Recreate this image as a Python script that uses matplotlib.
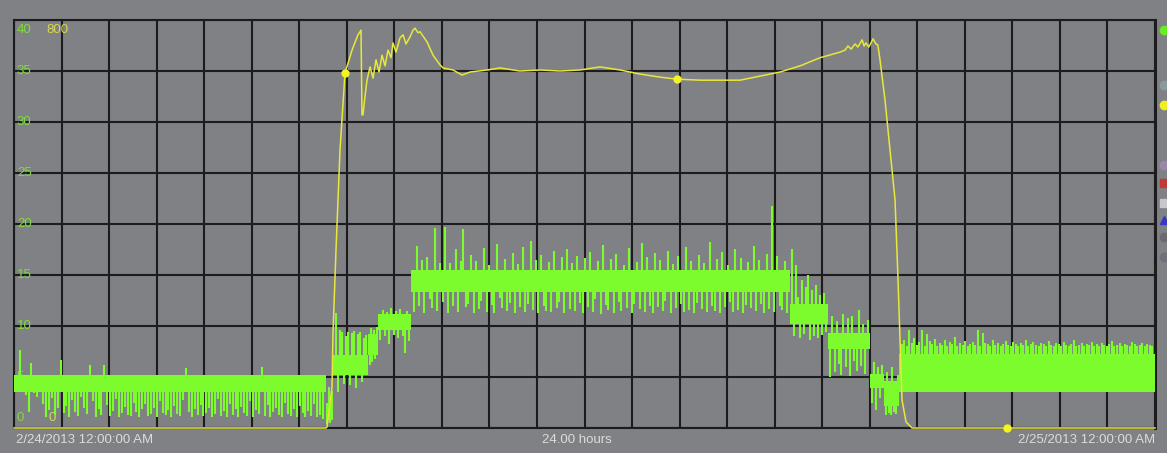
import numpy as np
import matplotlib
matplotlib.use("Agg")
from matplotlib import pyplot as plt

# ---DATA---#
# green trace: piecewise band (hours start, hours end, low, high) + spikes spread over each piece
seg_t0 = [0.00, 6.56, 6.72, 7.45, 7.66, 8.36, 16.32, 17.12, 18.00, 18.30, 18.62]
seg_t1 = [6.56, 6.72, 7.45, 7.66, 8.36, 16.32, 17.12, 18.00, 18.30, 18.62, 24.00]
seg_lo = [3.5, 0.8, 5.2, 7.2, 9.6, 13.3, 10.2, 7.7, 3.9, 2.2, 3.5]
seg_hi = [5.2, 2.5, 7.2, 9.2, 11.2, 15.5, 12.2, 9.3, 5.3, 4.6, 7.3]

seg_spikes = [
    [4.0, 7.6, 3.6, 3.2, 1.6, 6.4, 3.4, 3.0, 3.5, 2.4,
     1.1, 1.8, 2.9, 1.3, 2.0, 6.7, 1.5, 2.2, 1.1, 2.7,
     1.6, 1.2, 3.0, 2.0, 1.4, 6.2, 2.6, 1.1, 1.9, 1.3,
     6.2, 2.3, 1.2, 1.7, 2.8, 1.1, 1.5, 2.1, 1.3, 1.2,
     2.5, 1.6, 1.1, 1.9, 2.4, 1.2, 1.4, 2.0, 1.1, 2.6,
     1.5, 1.3, 1.8, 1.1, 2.2, 1.4, 1.2, 2.7, 5.9, 1.6,
     1.1, 1.9, 1.3, 2.3, 1.2, 1.5, 2.0, 1.1, 1.4, 2.8,
     1.2, 1.7, 1.1, 2.4, 1.3, 1.9, 1.1, 2.1, 1.5, 1.2,
     2.6, 1.1, 1.8, 1.4, 6.0, 1.2, 2.3, 1.1, 1.6, 2.0,
     1.3, 1.1, 2.5, 1.4, 1.2, 1.9, 1.1, 2.2, 1.5, 1.1,
     1.7, 1.2, 2.4, 1.1, 1.3, 0.9],
    [0.4, 4.0, 0.5, 3.6],
    [11.3, 3.5, 9.6, 9.4, 4.3, 9.0, 9.4, 4.2, 9.3, 9.5, 3.9, 9.2, 9.4, 4.5, 8.8, 9.1],
    [6.2, 9.8, 6.5, 9.6, 6.8, 9.9],
    [8.6, 11.6, 9.0, 11.4, 8.2, 11.8, 9.1, 11.5, 8.8, 11.7, 9.0, 7.4, 11.5, 8.5],
    [11.4, 17.8, 12.0, 16.5, 11.3, 16.8, 12.6, 11.8, 19.6, 11.5, 16.2, 12.4, 19.7, 11.3, 16.2,
     12.0, 17.5, 11.4, 16.4, 19.5, 11.9, 12.2, 17.0, 11.3, 16.4, 11.7, 12.5, 17.6, 11.4, 16.0,
     12.1, 11.3, 18.0, 12.7, 11.8, 16.6, 11.5, 12.3, 17.2, 11.3, 16.1, 11.9, 17.7, 11.4, 12.2,
     18.3, 11.6, 16.5, 11.3, 17.0, 12.0, 11.5, 16.3, 11.4, 17.4, 11.8, 12.4, 16.8, 11.3, 17.5,
     11.7, 16.2, 11.5, 16.9, 12.3, 11.3, 16.7, 11.9, 17.3, 11.4, 12.6, 16.4, 11.2, 17.9, 12.1,
     11.6, 16.6, 11.3, 17.1, 12.4, 11.5, 16.0, 11.8, 17.6, 11.3, 12.2, 16.3, 11.7, 18.1, 11.4,
     16.8, 12.0, 11.3, 17.2, 11.9, 16.5, 11.5, 12.5, 17.4, 11.3, 16.1, 11.8, 16.9, 12.2, 11.4,
     17.7, 11.6, 16.4, 11.3, 12.3, 17.0, 11.7, 16.2, 11.4, 18.2, 12.0, 11.5, 16.6, 11.3, 17.3,
     11.9, 16.0, 12.4, 11.4, 17.5, 11.6, 16.7, 11.3, 12.1, 16.3, 11.8, 17.8, 11.5, 16.5, 12.2,
     11.3, 17.1, 11.7, 21.8, 11.4, 16.9, 12.0, 11.6, 16.4, 11.3],
    [17.5, 9.0, 16.0, 12.8, 8.8, 14.5, 9.2, 13.8, 15.0, 8.6, 13.5, 9.0, 14.0, 8.8, 13.0, 9.1,
     13.2, 9.4],
    [5.0, 11.0, 5.5, 10.5, 6.3, 5.2, 11.2, 6.0, 10.8, 5.1, 11.0, 6.6, 5.6, 11.6, 6.1, 10.2,
     5.3, 10.6],
    [2.5, 6.5, 1.8, 6.0, 2.9, 6.2],
    [1.3, 5.5, 1.5, 1.3, 6.0, 1.6, 1.4, 5.2],
    [8.2, 8.6, 8.0, 9.6, 8.3, 8.8, 8.1, 8.4, 9.6, 8.0, 9.2, 8.5, 8.2, 8.7, 8.0, 8.3, 8.1, 8.6,
     8.0, 8.4, 8.2, 8.9, 8.0, 8.3, 8.1, 8.5, 8.0, 8.2, 8.4, 8.1, 9.6, 8.0, 9.3, 8.3, 8.2, 8.0,
     8.6, 8.1, 8.3, 8.0, 8.2, 8.5, 8.1, 8.0, 8.4, 8.2, 8.0, 8.3, 8.1, 8.6, 8.0, 8.2, 8.4, 8.1,
     8.0, 8.3, 8.2, 8.0, 8.5, 8.1, 8.0, 8.3, 8.2, 8.0, 8.4, 8.1, 8.0, 8.2, 8.6, 8.0, 8.1, 8.3,
     8.0, 8.2, 8.1, 8.4, 8.0, 8.2, 8.0, 8.3, 8.1, 8.0, 8.2, 8.5, 8.0, 8.1, 8.3, 8.0, 8.2, 8.1,
     8.0, 8.4, 8.2, 8.0, 8.1, 8.3, 8.0, 8.2, 8.1, 8.0],
]

# yellow trace (0-800 scale)
yel_t = [0.00, 6.563, 6.584, 6.689, 6.710, 6.773, 6.815, 6.857, 6.962, 7.110, 7.236, 7.299,
         7.320, 7.340, 7.383, 7.425, 7.489, 7.552, 7.615, 7.678, 7.741, 7.804, 7.867, 7.930,
         7.972, 8.035, 8.120, 8.183, 8.246, 8.330, 8.393, 8.435, 8.498, 8.540, 8.688, 8.814,
         8.961, 9.024, 9.234, 9.424, 9.592, 9.950, 10.223, 10.64, 11.064, 11.485, 11.906,
         12.327, 12.747, 13.168, 13.589, 13.946, 14.430, 15.272, 15.692, 16.113, 16.534,
         16.954, 17.375, 17.48, 17.54, 17.61, 17.69, 17.75, 17.84, 17.88, 17.92, 17.98, 18.07,
         18.13, 18.17, 18.216, 18.321, 18.426, 18.532, 18.595, 18.679, 18.763, 18.889, 24.0]
yel_v = [0, 0, 2, 80, 186, 349, 447, 545, 696, 741, 771, 780,
         614, 614, 650, 682, 708, 686, 722, 698, 731, 710, 741, 726,
         755, 737, 765, 771, 753, 767, 780, 784, 775, 777, 757, 731,
         712, 706, 702, 692, 698, 702, 706, 700, 702, 700, 702,
         708, 702, 694, 688, 684, 682, 682, 690, 698, 710,
         726, 737, 741, 749, 743, 753, 747, 761, 749, 755, 747, 763,
         753, 751, 722, 643, 545, 447, 290, 55, 12, 0, 0]
yel_mark_t = [6.962, 13.946, 20.89]
yel_mark_v = [696, 684, 0]

green_ticks = [0, 5, 10, 15, 20, 25, 30, 35, 40]
start_label = '2/24/2013 12:00:00 AM'
span_label = '24.00 hours'
end_label = '2/25/2013 12:00:00 AM'

# ---PLOT---#
bg = '#808185'
green = '#7cfc2c'
yellow = '#e8e83a'
gridc = '#1c1c1e'

fig = plt.figure(figsize=(11.67, 4.53), dpi=100, facecolor=bg)
ax = fig.add_axes([14/1167, 25/453, 1141/1167, 408/453])
ax.set_facecolor(bg)
ax.set_xlim(0, 24)
ax.set_ylim(0, 40)
ax.set_xticks(range(25))
ax.set_yticks(green_ticks)
ax.grid(True, color=gridc, lw=1.5, zorder=0)
ax.tick_params(length=0, labelbottom=False, labelleft=False)
for s in ax.spines.values():
    s.set_color(gridc)
    s.set_linewidth(1.5)
ax.spines['right'].set_linewidth(2.2)
ax.set_axisbelow(True)

# green value labels inside the plot
for v in green_ticks:
    va = 'center'
    yy = v
    if v == 40:
        va, yy = 'top', 39.6
    elif v == 0:
        va, yy = 'bottom', 0.4
    ax.text(0.06, yy, str(v), color='#80dc3c', fontsize=9.5, va=va, ha='left',
            family='Liberation Sans', zorder=1)
ax.text(0.69, 39.6, '800', color='#d8d84a', fontsize=9.5, va='top', ha='left',
        family='Liberation Sans', zorder=1)
ax.text(0.72, 0.4, '0', color='#d8d84a', fontsize=9.5, va='bottom', ha='left',
        family='Liberation Sans', zorder=1)

# green band
for t0, t1, lo, hi, sp in zip(seg_t0, seg_t1, seg_lo, seg_hi, seg_spikes):
    ax.fill_between([t0, t1], [lo, lo], [hi, hi], color=green, lw=0, zorder=3)
    ts = np.linspace(t0, t1, len(sp) + 2)[1:-1]
    mid = 0.5 * (lo + hi)
    ax.vlines(ts, mid, sp, color=green, lw=1.5, zorder=3)

# yellow trace on its own 0-800 scale
ax2 = ax.twinx()
ax2.set_ylim(0, 800)
ax2.set_xlim(0, 24)
ax2.axis('off')
ax2.plot(yel_t, yel_v, color=yellow, lw=1.1, zorder=4, clip_on=False)
ax2.plot(yel_mark_t, yel_mark_v, 'o', color='#f4f420', ms=5, zorder=5, clip_on=False)

# legend icons cut off at right edge
icons = [('o', '#66ee22', 30), ('o', '#8a9aa0', 85), ('o', '#f0f020', 105),
         ('o', '#9a88a8', 165), ('s', '#c03838', 183), ('s', '#c8c8cc', 203),
         ('^', '#3838c0', 220), ('o', '#6a6a70', 237), ('o', '#70707a', 257)]
for m, c, ypx in icons:
    ax.plot([(1164 - 14) / 1141], [(428 - ypx) / 408], m, color=c, ms=6,
            transform=ax.transAxes, clip_on=False)

# bottom labels
lab = dict(color='#dcdcdc', fontsize=9.5, family='Liberation Sans', va='center')
fig.text(16/1167, 1 - 440/453, start_label, ha='left', **lab)
fig.text(577/1167, 1 - 440/453, span_label, ha='center', **lab)
fig.text(1155/1167, 1 - 440/453, end_label, ha='right', **lab)

fig.savefig('out.png', dpi=100, facecolor=bg)
